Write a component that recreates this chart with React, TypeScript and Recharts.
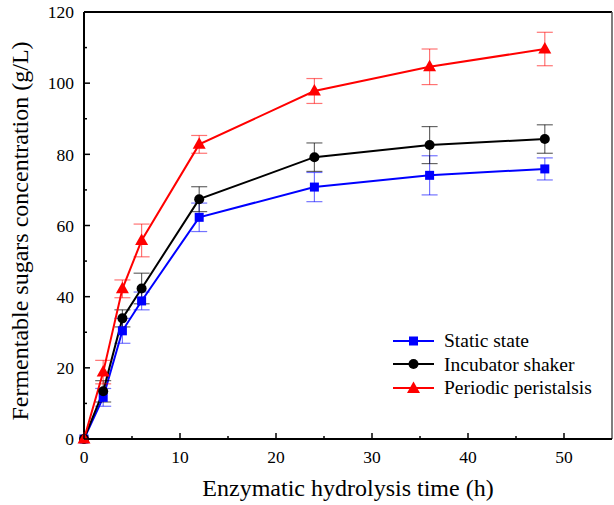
import { LineChart, Line, XAxis, YAxis, ErrorBar, ReferenceLine, Legend } from "recharts";

const times = [0, 2, 4, 6, 12, 24, 36, 48];
const staticState = [0, 11.7, 30.4, 38.8, 62.3, 70.8, 74.1, 75.9];
const staticErr = [0, 2.5, 3.5, 2.5, 4.0, 4.1, 5.5, 3.1];
const shaker = [0, 13.4, 33.9, 42.3, 67.4, 79.2, 82.6, 84.3];
const shakerErr = [0, 3.0, 2.4, 4.3, 3.5, 4.0, 5.2, 4.0];
const peristalsis = [0, 18.8, 42.2, 55.8, 82.8, 97.8, 104.6, 109.6];
const peristalsisErr = [0, 3.3, 2.5, 4.6, 2.5, 3.5, 5.0, 4.7];

const xTicks = [0, 5, 10, 15, 20, 25, 30, 35, 40, 45, 50];
const yTicks = [0, 10, 20, 30, 40, 50, 60, 70, 80, 90, 100, 110, 120];

const seriesNames = ["Static state", "Incubator shaker", "Periodic peristalsis"];

const data = times.map((t, i) => ({
  time: t,
  staticState: staticState[i],
  staticErr: staticErr[i],
  shaker: shaker[i],
  shakerErr: shakerErr[i],
  peristalsis: peristalsis[i],
  peristalsisErr: peristalsisErr[i],
}));

const FONT = "'Liberation Serif', 'Times New Roman', serif";
const BLUE = "#0000ff";
const RED = "#ff0000";

// ticks point inward; minor ticks get no label
function XTick({ x, y, payload }: any) {
  const major = payload.value % 10 === 0;
  const axisY = y - 12;
  return (
    <g>
      <line x1={x} x2={x} y1={axisY} y2={axisY - (major ? 6 : 3)} stroke="#000" strokeWidth={1.5} />
      {major && (
        <text x={x} y={y} dy="0.71em" textAnchor="middle" style={{ fontFamily: FONT, fontSize: 17.5 }} fill="#000">
          {payload.value}
        </text>
      )}
    </g>
  );
}

function YTick({ x, y, payload }: any) {
  const major = payload.value % 20 === 0;
  const axisX = x + 10;
  return (
    <g>
      <line x1={axisX} x2={axisX + (major ? 6 : 3)} y1={y} y2={y} stroke="#000" strokeWidth={1.5} />
      {major && (
        <text x={x} y={y} dy="0.355em" textAnchor="end" style={{ fontFamily: FONT, fontSize: 17.5 }} fill="#000">
          {payload.value}
        </text>
      )}
    </g>
  );
}

function YTitle() {
  return (
    <text
      x={19}
      y={231}
      transform="rotate(-90, 19, 231)"
      dy="0.355em"
      textAnchor="middle"
      style={{ fontFamily: FONT, fontSize: 24 }}
      fill="#000"
    >
      Fermentable sugars concentration (g/L)
    </text>
  );
}

function Square({ cx, cy, fill }: any) {
  if (cx == null || cy == null) return null;
  return <rect x={cx - 4.5} y={cy - 4.5} width={9} height={9} fill={fill} />;
}

function Triangle({ cx, cy, fill }: any) {
  if (cx == null || cy == null) return null;
  return <path d={`M${cx},${cy - 7} L${cx + 6.5},${cy + 4.5} L${cx - 6.5},${cy + 4.5} Z`} fill={fill} />;
}

function LegendMarker({ index }: { index: number }) {
  const color = [BLUE, "#000", RED][index];
  return (
    <svg width={41} height={14} style={{ display: "block" }}>
      <line x1={0} x2={41} y1={7} y2={7} stroke={color} strokeWidth={2} />
      {index === 0 && <rect x={16} y={2.5} width={9} height={9} fill={color} />}
      {index === 1 && <circle cx={20.5} cy={7} r={5} fill={color} />}
      {index === 2 && <path d="M20.5,0.5 L27,12 L14,12 Z" fill={color} />}
    </svg>
  );
}

function LegendBox() {
  return (
    <div style={{ fontFamily: FONT, fontSize: 19.5, color: "#000", lineHeight: "23.5px" }}>
      {seriesNames.map((name, i) => (
        <div key={name} style={{ display: "flex", alignItems: "center", height: 23.5 }}>
          <LegendMarker index={i} />
          <span style={{ marginLeft: 10, whiteSpace: "nowrap" }}>{name}</span>
        </div>
      ))}
    </div>
  );
}

export default function App() {
  return (
    <div style={{ position: "absolute", left: 0, top: 0, background: "#fff" }}>
      <LineChart width={614} height={505} data={data} margin={{ top: 12, right: 2, bottom: 0, left: 0 }}>
        <XAxis
          dataKey="time"
          type="number"
          domain={[0, 55]}
          ticks={xTicks}
          interval={0}
          tickSize={0}
          tickMargin={12}
          tickLine={false}
          tick={<XTick />}
          height={66}
          axisLine={{ stroke: "#000", strokeWidth: 2 }}
          label={{
            value: "Enzymatic hydrolysis time (h)",
            position: "insideBottom",
            offset: 9,
            style: { fontFamily: FONT, fontSize: 24, fill: "#000" },
          }}
        />
        <YAxis
          type="number"
          domain={[0, 120]}
          ticks={yTicks}
          interval={0}
          tickSize={0}
          tickMargin={10}
          tickLine={false}
          tick={<YTick />}
          width={84}
          axisLine={{ stroke: "#000", strokeWidth: 2 }}
          label={{ content: () => <YTitle /> }}
        />
        <ReferenceLine y={120} stroke="#000" strokeWidth={2} ifOverflow="visible" />
        <ReferenceLine x={55} stroke="#555" strokeWidth={1.5} ifOverflow="visible" />
        <Legend
          layout="horizontal"
          verticalAlign="middle"
          align="center"
          content={() => <LegendBox />}
          wrapperStyle={{ left: 393, top: 329, width: "auto" }}
        />
        <Line dataKey="staticState" name={seriesNames[0]} stroke={BLUE} strokeWidth={2} dot={<Square fill={BLUE} />} activeDot={false} isAnimationActive={false}>
          <ErrorBar dataKey="staticErr" direction="y" width={8} stroke={BLUE} strokeOpacity={0.55} strokeWidth={1.2} isAnimationActive={false} />
        </Line>
        <Line dataKey="shaker" name={seriesNames[1]} stroke="#000" strokeWidth={2} dot={{ r: 5, fill: "#000", stroke: "#000", strokeWidth: 0 }} activeDot={false} isAnimationActive={false}>
          <ErrorBar dataKey="shakerErr" direction="y" width={8} stroke="#000" strokeOpacity={0.6} strokeWidth={1.2} isAnimationActive={false} />
        </Line>
        <Line dataKey="peristalsis" name={seriesNames[2]} stroke={RED} strokeWidth={2} dot={<Triangle fill={RED} />} activeDot={false} isAnimationActive={false}>
          <ErrorBar dataKey="peristalsisErr" direction="y" width={8} stroke={RED} strokeOpacity={0.55} strokeWidth={1.2} isAnimationActive={false} />
        </Line>
      </LineChart>
    </div>
  );
}
